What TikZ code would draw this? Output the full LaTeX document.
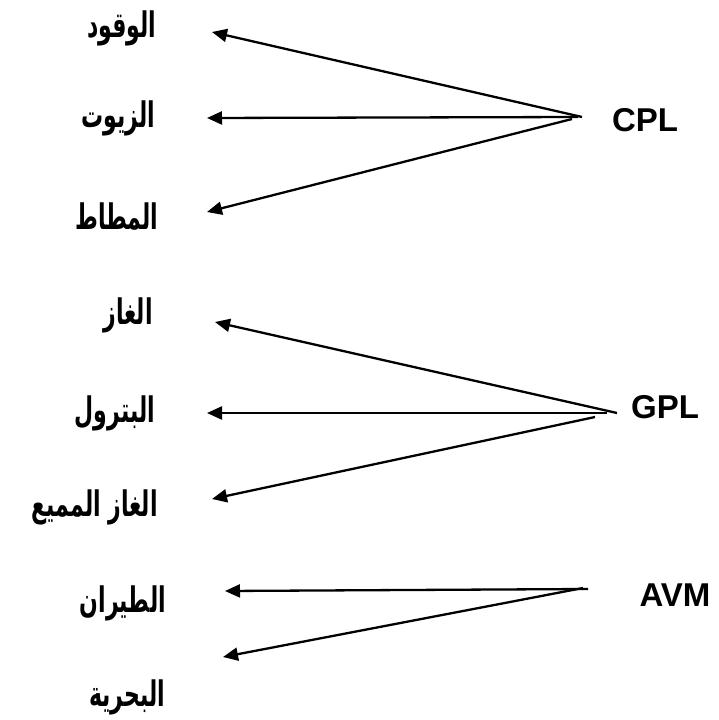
\documentclass[tikz,border=0pt]{standalone}
\usepackage{fontspec}
\usepackage{graphicx}
\setmainfont{Liberation Sans}
\newfontfamily\arabicfont[Script=Arabic]{DejaVu Sans}
\TeXXeTstate=1
\usetikzlibrary{arrows.meta}
\newcommand{\artxt}[1]{\scalebox{1}[1.6]{\beginR #1\endR}}
\begin{document}
\begin{tikzpicture}[x=1pt,y=-1pt,
  ar/.style={font=\arabicfont\bfseries\fontsize{22}{26}\selectfont, inner sep=0pt},
  lat/.style={font=\bfseries\fontsize{33}{38}\selectfont, inner sep=0pt},
  arr/.style={line width=2.3pt, -{Triangle[length=15pt,width=13pt]}}]
\useasboundingbox (0,0) rectangle (719,720);
% labels
\node[lat] (cpl) at (645,120) {CPL};
\node[lat] (gpl) at (665,407) {GPL};
\node[lat] (avm) at (675,595) {AVM};
\node[ar] (w1) at (122,28) {\artxt{الوقود}};
\node[ar] (w2) at (118,118) {\artxt{الزيوت}};
\node[ar] (w3) at (117,217) {\artxt{المطاط}};
\node[ar] (w4) at (128,315) {\artxt{الغاز}};
\node[ar] (w5) at (115,413) {\artxt{البترول}};
\node[ar,anchor=east] (w6) at (158,507) {\artxt{الغاز المميع}};
\node[ar] (w7) at (123,603) {\artxt{الطيران}};
\node[ar] (w8) at (127,697) {\artxt{البحرية}};
% arrow ends
\coordinate (s1) at (582,117);
\coordinate (s2) at (578,117);
\coordinate (s3) at (572,119);
\coordinate (t1) at (212,32);
\coordinate (t2) at (207,118);
\coordinate (t3) at (207,212);
\coordinate (s4) at (617,413);
\coordinate (s5) at (607,413);
\coordinate (s6) at (595,417);
\coordinate (t4) at (215,322);
\coordinate (t5) at (207,413);
\coordinate (t6) at (212,499);
\coordinate (s7) at (588,589);
\coordinate (s8) at (583,588);
\coordinate (t7) at (225,591);
\coordinate (t8) at (223,657);
\foreach \i in {1,...,8} \draw[arr] (s\i) -- (t\i);
\end{tikzpicture}
\end{document}
